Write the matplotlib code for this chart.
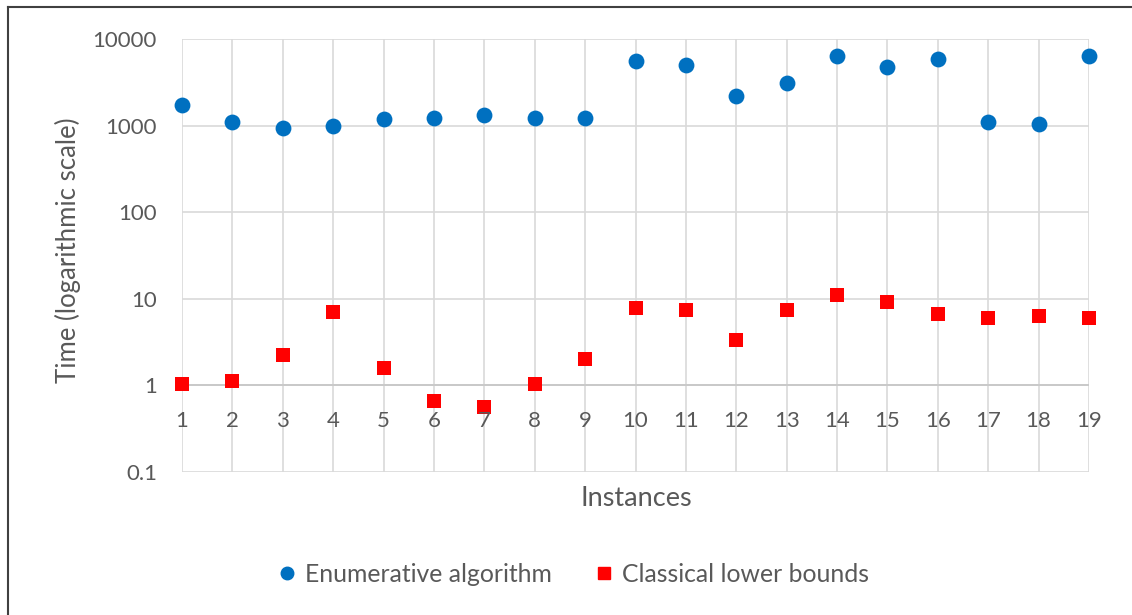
import matplotlib
matplotlib.use('Agg')
import matplotlib.pyplot as plt
from matplotlib.lines import Line2D

# data
instances = list(range(1, 20))
enumerative = [1750, 1100, 940, 990, 1180, 1240, 1320, 1240, 1240,
               5600, 5000, 2200, 3130, 6300, 4700, 5900, 1100, 1050, 6300]
classical = [1.04, 1.12, 2.24, 7.05, 1.59, 0.66, 0.57, 1.04, 2.0,
             7.8, 7.4, 3.3, 7.4, 11.2, 9.3, 6.6, 5.95, 6.25, 5.95]
y_ticks = [0.1, 1, 10, 100, 1000, 10000]
y_tick_labels = ['0.1', '1', '10', '100', '1000', '10000']

blue = '#0070C0'
red = '#FF0000'
text_grey = '#595959'
grid_grey = '#D9D9D9'

plt.rcParams['font.family'] = ['Lato', 'DejaVu Sans']

fig = plt.figure(figsize=(11.32, 6.15), dpi=100)
ax = fig.add_axes([182 / 1132, 1 - 472 / 615, (1089 - 182) / 1132, (472 - 39) / 615])

ax.set_yscale('log')
ax.set_ylim(0.1, 10000)
ax.set_xlim(1, 19)

ax.scatter(instances, enumerative, s=130, marker='o', color=blue, zorder=3, clip_on=False, linewidths=0)
ax.scatter(instances, classical, s=110, marker='s', color=red, zorder=3, clip_on=False, linewidths=0)

# grid
ax.set_xticks(instances)
ax.set_xticklabels([])
ax.set_yticks(y_ticks)
ax.set_yticklabels(y_tick_labels, fontsize=16, color=text_grey)
ax.yaxis.set_minor_locator(matplotlib.ticker.NullLocator())
ax.tick_params(axis='both', length=0)
ax.tick_params(axis='y', pad=18)
ax.grid(True, color=grid_grey, linewidth=1.2, zorder=0)
ax.set_axisbelow(True)
for s in ax.spines.values():
    s.set_visible(False)
ax.axhline(1, color='#C9C9C9', linewidth=1.4, zorder=1)

# category labels sit under the axis line at y=1
for i in instances:
    ax.annotate(str(i), (i, 1), xytext=(0, -36), textcoords='offset pixels',
                ha='center', va='center', fontsize=16, color=text_grey)

fig.text(636 / 1132, 1 - 498 / 615, 'Instances', ha='center', va='center', fontsize=19.5, color=text_grey)
fig.text(68 / 1132, 1 - 250 / 615, 'Time (logarithmic scale)', rotation=90,
         ha='center', va='center', fontsize=18.5, color=text_grey)

# legend
handles = [Line2D([], [], marker='o', linestyle='', color=blue, markersize=9),
           Line2D([], [], marker='s', linestyle='', color=red, markersize=8.5)]
fig.legend(handles, ['Enumerative algorithm', 'Classical lower bounds'], loc='center',
           bbox_to_anchor=(572 / 1132, 1 - 574 / 615), ncol=2, frameon=False, fontsize=17.8,
           labelcolor=text_grey, handletextpad=0.23, columnspacing=1.6, handlelength=1.0,
           borderpad=0, borderaxespad=0)

# outer chart border
fig.add_artist(Line2D([8 / 1132, 8 / 1132], [0, 1 - 7 / 615], transform=fig.transFigure,
                      color='#404040', linewidth=1.5))
fig.add_artist(Line2D([8 / 1132, 1], [1 - 7 / 615, 1 - 7 / 615], transform=fig.transFigure,
                      color='#404040', linewidth=1.5))

fig.savefig('out.png', dpi=100)
